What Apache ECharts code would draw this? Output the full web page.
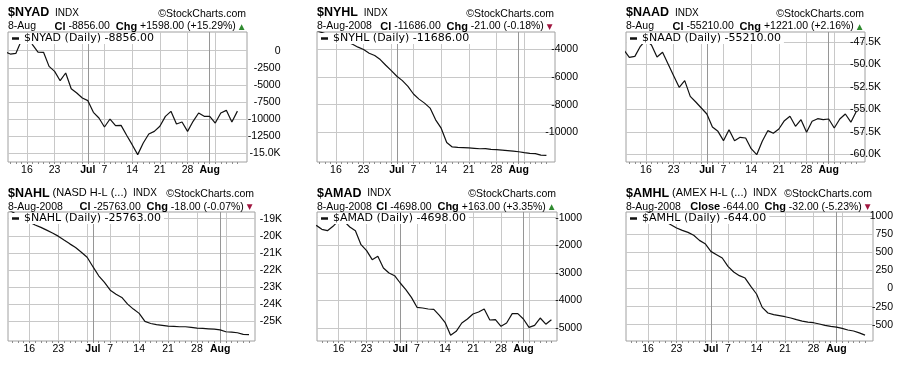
<!DOCTYPE html>
<html><head><meta charset="utf-8">
<script src="https://cdn.jsdelivr.net/npm/echarts@6/dist/echarts.min.js"></script>
<style>html,body{margin:0;padding:0;background:#fff}#c{width:907px;height:368px}</style>
</head><body><div id="c"></div>
<script>
// ---------- data ----------
const dates = ['2008-06-10','2008-06-11','2008-06-12','2008-06-13','2008-06-16','2008-06-17','2008-06-18','2008-06-19','2008-06-20',
 '2008-06-23','2008-06-24','2008-06-25','2008-06-26','2008-06-27','2008-06-30','2008-07-01','2008-07-02','2008-07-03',
 '2008-07-07','2008-07-08','2008-07-09','2008-07-10','2008-07-11','2008-07-14','2008-07-15','2008-07-16','2008-07-17','2008-07-18',
 '2008-07-21','2008-07-22','2008-07-23','2008-07-24','2008-07-25','2008-07-28','2008-07-29','2008-07-30','2008-07-31','2008-08-01',
 '2008-08-04','2008-08-05','2008-08-06','2008-08-07','2008-08-08'];
const xTickDates  = ['2008-06-16','2008-06-23','2008-07-01','2008-07-07','2008-07-14','2008-07-21','2008-07-28','2008-08-01'];
const xTickLabels = ['16','23','Jul','7','14','21','28','Aug'];

const nyad = [-130,-490,-400,1500,2200,900,-200,-240,-2300,-3030,-4400,-3270,-5570,-6200,-6930,-7320,-9030,-9860,-11180,-10010,
 -10990,-10940,-12400,-13770,-15230,-13530,-12210,-11820,-11080,-9620,-8890,-10740,-10450,-11820,-10350,-9130,-9620,-9620,-10600,
 -9130,-8740,-10454,-8856];
const nyhl = [-2550,-2700,-2850,-3000,-3150,-3300,-3450,-3620,-3830,-4000,-4270,-4440,-4730,-5140,-5530,-5940,-6260,-6670,-7230,
 -7600,-7890,-8250,-9100,-9710,-10750,-11070,-11100,-11120,-11140,-11170,-11200,-11190,-11240,-11270,-11300,-11330,-11370,-11420,
 -11480,-11530,-11560,-11665,-11686];
const naad = [-48400,-49226,-49115,-48000,-47300,-47850,-49189,-48670,-49967,-51263,-52559,-51819,-53559,-54189,-54856,-55522,
 -56967,-57448,-58485,-57263,-58485,-58111,-58189,-59374,-60041,-58559,-57374,-57670,-57189,-56263,-55781,-56893,-56152,-57559,
 -56337,-56041,-56152,-56078,-57078,-56078,-55522,-56431,-55210];
const nahl = [-18450,-18600,-18800,-19000,-19200,-19370,-19510,-19670,-19840,-20020,-20250,-20470,-20680,-20960,-21250,-21800,
 -22330,-22720,-23170,-23400,-23590,-23980,-24270,-24520,-24990,-25110,-25180,-25220,-25260,-25280,-25300,-25300,-25340,-25380,
 -25400,-25420,-25440,-25480,-25590,-25610,-25650,-25745,-25763];
const amad = [-1275,-1421,-1469,-1312,-1106,-1131,-1336,-1469,-1977,-2195,-2521,-2400,-2824,-3005,-3102,-3368,-3610,-3888,-4250,
 -4275,-4311,-4323,-4541,-4795,-5266,-5121,-4819,-4674,-4492,-4420,-4311,-4710,-4698,-4940,-4819,-4480,-4480,-4674,-4976,-4904,
 -4638,-4861,-4698];
const amhl = [1250,1200,1150,1100,1060,1020,980,930,884,838,806,778,737,667,621,515,469,423,308,229,179,146,31,-75,-260,-338,-361,
 -375,-389,-407,-430,-449,-463,-472,-490,-509,-522,-532,-550,-573,-587,-612,-644];

const nyadTicks = [0,-2500,-5000,-7500,-10000,-12500,-15000];
const nyadTickLabels = ['0','-2500','-5000','-7500','-10000','-12500','-15.0K'];
const nyhlTicks = [-4000,-6000,-8000,-10000];
const nyhlTickLabels = ['-4000','-6000','-8000','-10000'];
const naadTicks = [-47500,-50000,-52500,-55000,-57500,-60000];
const naadTickLabels = ['-47.5K','-50.0K','-52.5K','-55.0K','-57.5K','-60.0K'];
const nahlTicks = [-19000,-20000,-21000,-22000,-23000,-24000,-25000];
const nahlTickLabels = ['-19K','-20K','-21K','-22K','-23K','-24K','-25K'];
const amadTicks = [-1000,-2000,-3000,-4000,-5000];
const amadTickLabels = ['-1000','-2000','-3000','-4000','-5000'];
const amhlTicks = [1000,750,500,250,0,-250,-500];
const amhlTickLabels = ['1000','750','500','250','0','-250','-500'];

// ---------- layout ----------
const FONT = '"Liberation Sans", Arial, sans-serif';
const VFONT = '"DejaVu Sans", Verdana, sans-serif';
const panels = [
 {sym:'$NYAD', sub:'', date:'8-Aug', cl:'Cl', data:nyad, ticks:nyadTicks, labels:nyadTickLabels,
  left:8, top:32, width:239, height:130, rowY:0, xmin:0.585, xmax:43.73, ymin:-16310, ymax:2740, lblRight:280.5},
 {sym:'$NYHL', sub:'', date:'8-Aug-2008', cl:'Cl', data:nyhl, ticks:nyhlTicks, labels:nyhlTickLabels,
  left:317, top:32, width:238, height:130, rowY:0, xmin:0.585, xmax:43.55, ymin:-12162, ymax:-2730, lblRight:578},
 {sym:'$NAAD', sub:'', date:'8-Aug', cl:'Cl', data:naad, ticks:naadTicks, labels:naadTickLabels,
  left:626, top:32, width:239, height:130, rowY:0, xmin:0.40, xmax:43.55, ymin:-60856, ymax:-46411, lblRight:881},
 {sym:'$NAHL', sub:'(NASD H-L (...)', date:'8-Aug-2008', cl:'Cl', data:nahl, ticks:nahlTicks, labels:nahlTickLabels,
  left:8, top:212, width:247, height:129, rowY:180.6, xmin:0.31, xmax:43.04, ymin:-26130, ymax:-18613, lblRight:282},
 {sym:'$AMAD', sub:'', date:'8-Aug-2008', cl:'Cl', data:amad, ticks:amadTicks, labels:amadTickLabels,
  left:317, top:212, width:240, height:129, rowY:180.6, xmin:0.14, xmax:43.0, ymin:-5472, ymax:-792, lblRight:582},
 {sym:'$AMHL', sub:'(AMEX H-L (...)', date:'8-Aug-2008', cl:'Close', data:amhl, ticks:amhlTicks, labels:amhlTickLabels,
  left:626, top:212, width:247, height:129, rowY:180.6, xmin:0.14, xmax:43.4, ymin:-725, ymax:1059.5, lblRight:893}
];

const allIdx = dates.map((d, i) => i);
const mondays = allIdx.filter(i => new Date(dates[i] + 'T00:00:00Z').getUTCDay() === 1);
const monthStarts = allIdx.filter(i => i > 0 && dates[i].slice(5, 7) !== dates[i - 1].slice(5, 7));
const vLines = Array.from(new Set(mondays.concat(monthStarts))).sort((a, b) => a - b);
const labelPos = xTickDates.map(d => dates.indexOf(d));

const grid = [], xAxis = [], yAxis = [], series = [], legend = [], elements = [];
const GRID_C = '#c8c8c8', MONTH_C = '#969696', BORDER_C = '#a0a0a0', TICK_C = '#8c8c8c';

panels.forEach((P, p) => {
  const inX = arr => arr.filter(v => v >= P.xmin && v <= P.xmax);
  grid.push({left:P.left, top:P.top, width:P.width, height:P.height, show:true, borderColor:BORDER_C, borderWidth:1,
    backgroundColor:'#fff', containLabel:false, outerBoundsMode:'none'});
  xAxis.push({type:'value', gridIndex:p, min:P.xmin, max:P.xmax, position:'bottom',
    axisLine:{show:false, onZero:false},
    axisTick:{show:true, length:2, lineStyle:{color:TICK_C}, customValues:inX(allIdx)},
    axisLabel:{show:true, customValues:inX(labelPos), margin:3, fontFamily:FONT, fontSize:10.5, color:'#000',
      formatter: v => { const k = labelPos.indexOf(Math.round(v)); const s = k >= 0 ? xTickLabels[k] : '';
        return /^[A-Za-z]/.test(s) ? '{b|' + s + '}' : s; },
      rich:{b:{fontWeight:'bold', fontFamily:FONT, fontSize:10.5, color:'#000'}}},
    splitLine:{show:false}});
  const vl = inX(vLines);
  xAxis.push({type:'value', gridIndex:p, min:P.xmin, max:P.xmax, position:'top',
    axisLine:{show:false, onZero:false}, axisTick:{show:false, customValues:vl},
    axisLabel:{show:false, customValues:vl},
    splitLine:{show:true, customValues:vl,
      lineStyle:{color:vl.map(i => monthStarts.indexOf(i) >= 0 ? MONTH_C : GRID_C), width:1}}});
  yAxis.push({type:'value', gridIndex:p, position:'right', min:P.ymin, max:P.ymax,
    axisLine:{show:false, onZero:false}, axisTick:{show:false, customValues:P.ticks},
    axisLabel:{show:true, customValues:P.ticks, align:'right', margin:P.lblRight - (P.left + P.width),
      fontFamily:FONT, fontSize:10.5, color:'#000',
      formatter: v => { const k = P.ticks.findIndex(t => Math.abs(t - v) < 1e-6); return k >= 0 ? P.labels[k] : ''; }},
    splitLine:{show:true, customValues:P.ticks, lineStyle:{color:GRID_C, width:1}}});

  const last = P.data[P.data.length - 1], prev = P.data[P.data.length - 2];
  const chg = last - prev, pct = chg / Math.abs(prev) * 100;
  const sgn = x => (x > 0 ? '+' : '') + x.toFixed(2);
  const name = P.sym + ' (Daily) ' + last.toFixed(2);
  series.push({type:'line', name, xAxisIndex:2 * p, yAxisIndex:p,
    data:P.data.map((v, i) => [i, v]), showSymbol:false, symbol:'none', clip:true,
    lineStyle:{color:'#111', width:1.2}, itemStyle:{color:'#111'}, z:3});
  legend.push({data:[name], left:P.left + 1, top:P.top + 1, padding:[0, 3, 0, 3], backgroundColor:'#fff',
    icon:'rect', itemWidth:7, itemHeight:2.5, itemGap:0, selectedMode:false, z:10,
    textStyle:{fontFamily:VFONT, fontSize:11, color:'#000'}});

  const R = P.left + P.width;
  const richBase = {fontFamily:FONT, fill:'#000'};
  elements.push({type:'text', x:P.left, y:P.rowY + 12.8, silent:true, style:{
    text:'{t|' + P.sym + '} ' + (P.sub ? '{r|' + P.sub + '}  ' : ' ') + '{s|INDX}',
    fontFamily:FONT, fontSize:10.5, fill:'#000', align:'left', verticalAlign:'middle',
    rich:{t:Object.assign({fontSize:12.5, fontWeight:'bold'}, richBase), r:Object.assign({fontSize:11}, richBase),
          s:Object.assign({fontSize:10}, richBase)}}});
  elements.push({type:'text', x:R - 1, y:P.rowY + 13.8, silent:true, style:{
    text:'©StockCharts.com', fontFamily:FONT, fontSize:10.5, fill:'#000', align:'right', verticalAlign:'middle'}});
  elements.push({type:'text', x:P.left, y:P.rowY + 26.6, silent:true, style:{
    text:P.date, fontFamily:FONT, fontSize:10.5, fill:'#000', align:'left', verticalAlign:'middle'}});
  const up = chg >= 0;
  elements.push({type:'text', x:R - 2.5, y:P.rowY + 26.6, silent:true, style:{
    text:'{b|' + P.cl + '} {n|' + last.toFixed(2) + '}  {b|Chg} {n|' + sgn(chg) + ' (' + sgn(pct) + '%)} {a|' + (up ? '▲' : '▼') + '}',
    fontFamily:FONT, fontSize:10.5, fill:'#000', align:'right', verticalAlign:'middle',
    rich:{b:Object.assign({fontSize:11, fontWeight:'bold'}, richBase), n:Object.assign({fontSize:10.5}, richBase),
          a:{fontFamily:VFONT, fontSize:7.5, fill: up ? '#2f8a2f' : '#a0163f'}}}});
});

const chart = echarts.init(document.getElementById('c'), null, {renderer:'canvas'});
chart.setOption({
  backgroundColor:'#fff', animation:false,
  grid, xAxis, yAxis, series, legend,
  graphic:{elements}
});
</script></body></html>
